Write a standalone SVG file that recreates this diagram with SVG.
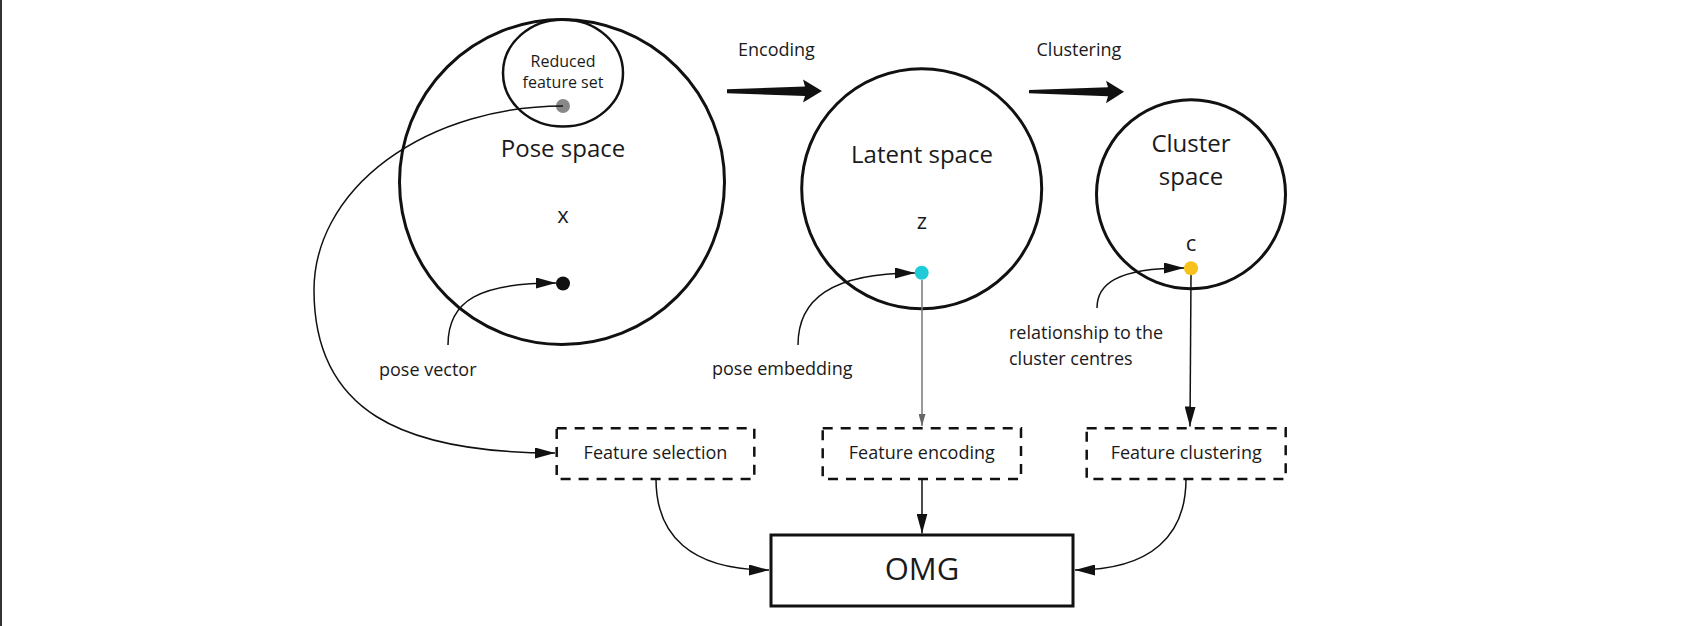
<svg xmlns="http://www.w3.org/2000/svg" width="1682" height="626" viewBox="0 0 1682 626">
<style>
text{font-family:"Open Sans","Noto Sans","Liberation Sans",sans-serif;fill:#1a1a1a}
.space{fill:none;stroke:#111;stroke-width:3}
.dash{fill:none;stroke:#111;stroke-width:2.5;stroke-dasharray:10 8}
.conn{fill:none;stroke:#111;stroke-width:1.5}
.lbl{font-size:18px}
.big{font-size:24px;text-anchor:middle}
.var{font-size:22px;text-anchor:middle}
.box{font-size:18px;text-anchor:middle}
</style>
<defs>
<marker id="ah" markerUnits="userSpaceOnUse" markerWidth="20" markerHeight="11" refX="20" refY="5.5" orient="auto">
<path d="M0,0 L20,5.5 L0,11 z" fill="#111"/>
</marker>
<marker id="ahg" markerUnits="userSpaceOnUse" markerWidth="12" markerHeight="7" refX="12" refY="3.5" orient="auto">
<path d="M0,0 L12,3.5 L0,7 z" fill="#666"/>
</marker>
</defs>
<rect width="1682" height="626" fill="#fff"/>
<rect x="0" y="0" width="2" height="626" fill="#333"/>

<g id="pose-space">
<circle class="space" cx="562" cy="182" r="162.5"/>
<text class="big" x="563" y="157">Pose space</text>
<text class="var" x="563" y="223">x</text>
<circle cx="563" cy="283.5" r="7" fill="#111"/>
</g>
<g id="reduced-feature-set">
<ellipse cx="563" cy="73" rx="60" ry="53.5" fill="none" stroke="#111" stroke-width="2.5"/>
<text x="563" y="67" font-size="16" text-anchor="middle">Reduced</text>
<text x="563" y="88" font-size="16" text-anchor="middle">feature set</text>
<circle cx="563" cy="106" r="7" fill="#888"/>
</g>
<g id="latent-space">
<circle class="space" cx="921.7" cy="188.8" r="120"/>
<text class="big" x="922" y="163">Latent space</text>
<text class="var" x="922" y="229">z</text>
</g>
<g id="cluster-space">
<circle class="space" cx="1191" cy="194.2" r="94.5"/>
<text class="big" x="1191" y="152">Cluster</text>
<text class="big" x="1191" y="185">space</text>
<text class="var" x="1191" y="251">c</text>
</g>
<g id="feature-selection">
<rect class="dash" x="556.7" y="428.3" width="197.6" height="50.7"/>
<text class="box" x="655.5" y="459">Feature selection</text>
</g>
<g id="feature-encoding">
<rect class="dash" x="822.7" y="428.3" width="198.3" height="50.7"/>
<text class="box" x="921.8" y="459">Feature encoding</text>
</g>
<g id="feature-clustering">
<rect class="dash" x="1086.7" y="428.3" width="199" height="50.7"/>
<text class="box" x="1186.2" y="459">Feature clustering</text>
</g>
<g id="omg">
<rect x="771" y="535" width="302" height="71" fill="none" stroke="#111" stroke-width="3"/>
<text x="922" y="580" font-size="31" text-anchor="middle">OMG</text>
</g>
<g id="labels">
<text class="lbl" x="738" y="56">Encoding</text>
<text class="lbl" x="1036.5" y="56">Clustering</text>
<text class="lbl" x="379" y="376">pose vector</text>
<text class="lbl" x="712" y="375">pose embedding</text>
<text class="lbl" x="1009" y="339">relationship to the</text>
<text class="lbl" x="1009" y="365">cluster centres</text>
</g>

<g id="connectors">
<polygon points="727,89.3 805,86.5 803,79.5 822,91 803,102.5 805,96 727,93.3" fill="#111"/>
<polygon points="1029,90 1108,87.3 1106,80.7 1124,91.7 1106,103.3 1108,96.3 1029,93.3" fill="#111"/>
<path class="conn" d="M563,106 A249,184 0 0 0 314,290 C314,410 400,453 555,453" marker-end="url(#ah)"/>
<path class="conn" d="M448,345 C448,300 480,283 556,283" marker-end="url(#ah)"/>
<path class="conn" d="M798,345 C798,300 830,273 915,273" marker-end="url(#ah)"/>
<path class="conn" d="M1097,308 C1097,285 1115,268 1184,268" marker-end="url(#ah)"/>
<line x1="922" y1="280" x2="922" y2="426" stroke="#777" stroke-width="1.5" marker-end="url(#ahg)"/>
<line x1="1191" y1="275" x2="1190" y2="426.5" class="conn" marker-end="url(#ah)"/>
<path class="conn" d="M656,479 C656,535 690,570 769,570" marker-end="url(#ah)"/>
<line class="conn" x1="922" y1="479" x2="922" y2="533.5" marker-end="url(#ah)"/>
<path class="conn" d="M1186,479 C1186,535 1152,570 1075,570" marker-end="url(#ah)"/>
</g>
<circle id="cyan-dot" cx="921.7" cy="272.7" r="7" fill="#1ecbd6"/>
<circle id="yellow-dot" cx="1191" cy="268.3" r="7" fill="#f7c21c"/>
</svg>
